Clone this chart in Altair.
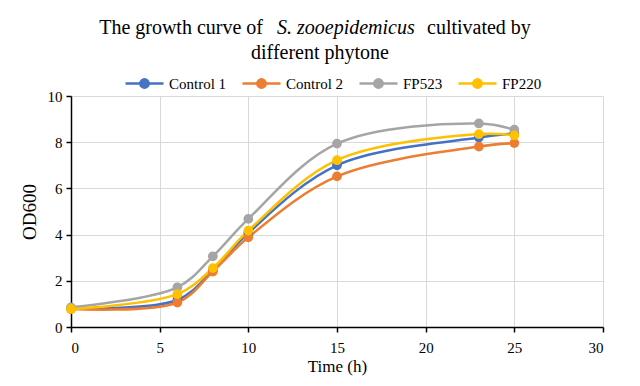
import altair as alt
import pandas as pd

# ---- data ----
time_h = [0, 6, 8, 10, 15, 23, 25]
control_1 = [0.80, 1.17, 2.45, 4.07, 7.00, 8.20, 8.38]
control_2 = [0.78, 1.06, 2.40, 3.88, 6.52, 7.81, 7.96]
fp523 = [0.85, 1.72, 3.06, 4.68, 7.94, 8.81, 8.54]
fp220 = [0.78, 1.42, 2.55, 4.17, 7.22, 8.35, 8.30]

series_names = ["Control 1", "Control 2", "FP523", "FP220"]
series_colors = ["#4472C4", "#ED7D31", "#A5A5A5", "#FFC000"]
x_ticks = [0, 5, 10, 15, 20, 25, 30]
y_ticks = [0, 2, 4, 6, 8, 10]

title_part1 = "The growth curve of"
title_italic = "S. zooepidemicus"
title_part2 = "cultivated by"
title_line2 = "different phytone"
x_title = "Time (h)"
y_title = "OD600"

# ---- build long table ----
rows = []
for name, vals in zip(series_names, [control_1, control_2, fp523, fp220]):
    for t, v in zip(time_h, vals):
        rows.append({"series": name, "time": t, "od": v})
df = pd.DataFrame(rows)

FONT = "Liberation Serif"
W, H = 532, 231

# legend symbol: line with a (filled-looking) circle
circ = ""
for r in [0.22, 0.14, 0.06]:
    circ += f"M{-r},0A{r},{r} 0 1,0 {r},0A{r},{r} 0 1,0 {-r},0Z"
legend_symbol = "M-1,0L1,0" + circ

axis_style = dict(
    domainColor="black", domainWidth=1.5,
    tickColor="black", tickSize=5, tickWidth=1.5,
    labelFont=FONT, labelFontSize=15, labelColor="black",
    titleFont=FONT, titleFontWeight="normal", titleColor="black",
    gridColor="#D9D9D9", gridWidth=1, grid=True,
)

lines = alt.Chart(df).mark_line(
    interpolate="catmull-rom",
    strokeWidth=2.5,
    point=alt.OverlayMarkDef(filled=True, size=95, opacity=1),
).encode(
    x=alt.X("time:Q", scale=alt.Scale(domain=[0, 30], nice=False),
            axis=alt.Axis(values=x_ticks, title=x_title, labelPadding=8,
                          titleFontSize=17, titlePadding=3, **axis_style)),
    y=alt.Y("od:Q", scale=alt.Scale(domain=[0, 10], nice=False),
            axis=alt.Axis(values=y_ticks, title=y_title, labelPadding=4,
                          titleFontSize=19, titlePadding=8, **axis_style)),
    color=alt.Color("series:N",
                    scale=alt.Scale(domain=series_names, range=series_colors),
                    legend=alt.Legend(title=None, orient="none", legendX=53, legendY=-33,
                                      direction="horizontal", columns=4, gridAlign="none",
                                      symbolType=legend_symbol, symbolSize=1444,
                                      symbolStrokeWidth=2.5, symbolOpacity=1,
                                      labelFont=FONT, labelFontSize=15, labelColor="black",
                                      labelOffset=4, columnPadding=10, padding=0)),
)


def text_layer(txt, x, y, align, italic=False):
    return alt.Chart(pd.DataFrame({"t": [txt]})).mark_text(
        align=align, baseline="alphabetic", font=FONT, fontSize=20,
        fontStyle="italic" if italic else "normal", color="black",
    ).encode(text="t:N", x=alt.value(x), y=alt.value(y))


t1 = text_layer(title_part1, 192, -62, "right")
t2 = text_layer(title_italic, 206, -62, "left", italic=True)
t3 = text_layer(title_part2, 356, -62, "left")
t4 = text_layer(title_line2, 249, -37, "center")

chart = alt.layer(lines, t1, t2, t3, t4).properties(
    width=W, height=H,
    padding={"left": 63, "top": 88, "right": 29, "bottom": 49},
    autosize=alt.AutoSizeParams(type="none"),
).configure(font=FONT).configure_view(strokeWidth=0).configure_axis(
    labelFont=FONT, titleFont=FONT,
).configure_legend(labelFont=FONT)

chart.save("out.html", embed_options={"renderer": "svg", "actions": False})
